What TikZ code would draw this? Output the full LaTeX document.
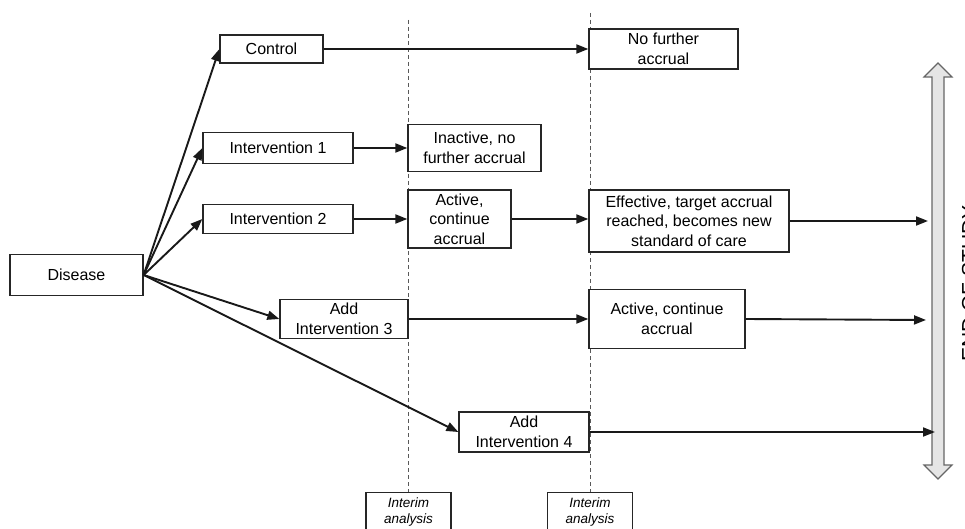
\documentclass[tikz,border=0pt]{standalone}
\usepackage{fontspec}
\setmainfont{Liberation Sans}
\usetikzlibrary{arrows.meta}
\begin{document}
\begin{tikzpicture}[x=1pt,y=-1pt,
 box/.style={draw=black!85, line width=1.3pt, fill=white, align=center, font=\fontsize{16}{19.5}\selectfont, inner sep=0pt, text=black},
 conn/.style={line width=1.9pt, draw=black!90, -{Triangle[length=12pt,width=9pt]}},
 ia/.style={draw=black!85, line width=1.3pt, fill=white, align=center, font=\fontsize{13.5}{16.5}\selectfont\itshape, inner xsep=4pt, inner ysep=5pt, anchor=north, minimum width=85pt, text=black},
 vline/.style={draw=black!65, line width=0.9pt, dash pattern=on 4pt off 3pt},
 endarrow/.style={draw=black!60, fill=black!10, line width=1.2pt}]
\useasboundingbox (0,0) rectangle (965,529);

% interim markers
\node[ia] (ia1) at (408.5,492) {Interim\\analysis};
\node[ia] (ia2) at (590,492) {Interim\\analysis};
\coordinate (t1) at (408.5,20);
\coordinate (t2) at (590,13);
\draw[vline] (t1) -- (ia1.north);
\draw[vline] (t2) -- (ia2.north);

% boxes
\node[box, minimum width=133pt, minimum height=41pt] (dis) at (76.5,275) {Disease};
\node[box, minimum width=103pt, minimum height=28pt] (ctl) at (271.5,49) {Control};
\node[box, minimum width=150pt, minimum height=31pt] (i1) at (278,148) {Intervention 1};
\node[box, minimum width=150pt, minimum height=29pt] (i2) at (278,219) {Intervention 2};
\node[box, minimum width=128pt, minimum height=39pt] (i3) at (344,319) {Add\\Intervention 3};
\node[box, minimum width=130pt, minimum height=40pt] (i4) at (524,432) {Add\\Intervention 4};
\node[box, minimum width=133pt, minimum height=47pt] (inact) at (474.5,148) {Inactive, no\\further accrual};
\node[box, minimum width=103pt, minimum height=58pt] (act1) at (459.5,219) {Active,\\continue\\accrual};
\node[box, minimum width=149pt, minimum height=40pt] (nof) at (663.5,49) {No further\\accrual};
\node[box, minimum width=200pt, minimum height=62pt] (eff) at (689,221) {Effective, target accrual\\reached, becomes new\\standard of care};
\node[box, minimum width=156pt, minimum height=59pt] (act2) at (667,319) {Active, continue\\accrual};

% end of study arrow
\path[endarrow] (938,63) -- (952,77) -- (944,77) -- (944,465) -- (952,465) -- (938,479)
  -- (924,465) -- (932,465) -- (932,77) -- (924,77) -- cycle;
\node[rotate=90, font=\fontsize{21}{24}\selectfont, text=black] (eos) at (969.5,283.5) {END OF STUDY};

\coordinate (e1) at (928,221);
\coordinate (e2) at (926,320);
\coordinate (e3) at (935,432);

% connectors
\draw[conn] (dis.east) -- (ctl.west);
\draw[conn] (dis.east) -- (i1.west);
\draw[conn] (dis.east) -- (i2.west);
\draw[conn] (dis.east) -- (i3.west);
\draw[conn] (dis.east) -- (i4.west);
\draw[conn] (ctl.east) -- (nof.west);
\draw[conn] (i1.east) -- (i1.east -| inact.west);
\draw[conn] (i2.east) -- (i2.east -| act1.west);
\draw[conn] (act1.east) -- (act1.east -| eff.west);
\draw[conn] (i3.east) -- (i3.east -| act2.west);
\draw[conn] (eff.east) -- (e1);
\draw[conn] (act2.east) -- (e2);
\draw[conn] (i4.east) -- (e3);
\end{tikzpicture}
\end{document}
